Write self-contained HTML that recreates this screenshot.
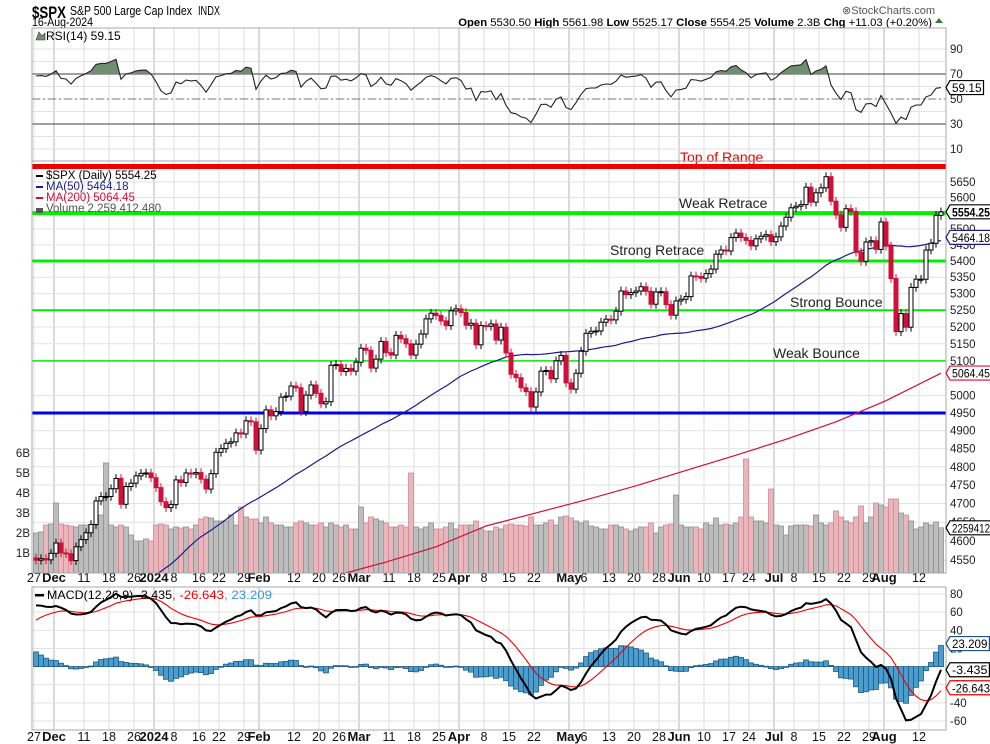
<!DOCTYPE html>
<html><head><meta charset="utf-8">
<style>
html,body{margin:0;padding:0;background:#fff;}
svg{display:block;font-family:"Liberation Sans",Arial,sans-serif;}
</style></head>
<body>
<svg id="chart" width="990" height="744" viewBox="0 0 990 744" xmlns="http://www.w3.org/2000/svg">
<g>
<text x="32" y="18" font-size="17" font-weight="bold" fill="#000" textLength="34" lengthAdjust="spacingAndGlyphs">$SPX</text>
<text x="70" y="15" font-size="12.5" fill="#000" textLength="122" lengthAdjust="spacingAndGlyphs">S&amp;P 500 Large Cap Index</text>
<text x="198" y="15" font-size="12.5" fill="#000" textLength="22" lengthAdjust="spacingAndGlyphs">INDX</text>
<text x="32" y="26" font-size="11.5" fill="#000" textLength="61" lengthAdjust="spacingAndGlyphs">16-Aug-2024</text>
<text x="935" y="14" font-size="11" fill="#555" text-anchor="end">⊗StockCharts.com</text>
<text x="932" y="26" font-size="11.3" fill="#000" text-anchor="end"><tspan font-weight="bold">Open</tspan> 5530.50 <tspan font-weight="bold">High</tspan> 5561.98 <tspan font-weight="bold">Low</tspan> 5525.17 <tspan font-weight="bold">Close</tspan> 5554.25 <tspan font-weight="bold">Volume</tspan> 2.3B <tspan font-weight="bold">Chg</tspan> +11.03 (+0.20%)</text>
<path d="M935 23 L939 18 L943 23 Z" fill="#3a7a3a"/>
</g>
<g id="grid"></g>
<g id="rsi"></g>
<g id="main"></g>
<g id="macd"></g>
<g id="axes"></g>
</svg>
<script>
// ---- data ----
const priorCloses=[4505,4450,4453,4443,4402,4330,4320,4337,4274,4275,4300,4288,4288,4229,4263,4258,4309,4336,4358,4377,4349,4328,4374,4373,4315,4278,4224,4218,4248,4186,4137,4117,4167,4194,4237,4318,4358,4365,4378,4383,4347,4415,4411,4496,4502,4508,4514,4547,4538,4557,4559];
const closes=[4550,4554,4551,4568,4595,4569,4567,4549,4585,4604,4622,4644,4707,4719,4719,4740,4768,4698,4746,4755,4775,4782,4783,4770,
4743,4705,4689,4697,4764,4757,4783,4780,4784,4766,4739,4781,4840,4850,4865,4869,4894,4891,4928,4925,4846,
4906,4959,4942,4954,4995,4998,5027,5022,4954,5001,5030,5006,4976,4982,5087,5089,5069,5078,5070,5096,
5137,5131,5079,5105,5157,5124,5117,5175,5165,5150,5117,5149,5179,5224,5241,5234,5218,5204,5248,5254,
5243,5205,5211,5147,5204,5202,5209,5161,5199,5123,5061,5051,5022,5011,4967,5010,5070,5072,5048,5100,5116,5036,
5018,5064,5128,5181,5187,5188,5214,5223,5221,5247,5308,5297,5303,5308,5321,5307,5268,5305,5306,5267,5235,5278,
5283,5291,5354,5352,5347,5361,5375,5421,5434,5431,5473,5487,5473,5464,5447,5469,5477,5482,5460,
5475,5509,5537,5567,5572,5577,5633,5585,5615,5631,5667,5588,5544,5505,5564,5555,5427,5399,5459,5463,5436,5522,
5446,5346,5186,5240,5199,5319,5344,5344,5434,5455,5543,5554];
const volumes=[2.0,2.05,2.4,2.45,3.5,2.45,2.4,2.35,2.3,2.4,2.4,2.35,2.4,2.9,5.5,2.4,2.3,2.4,2.3,1.9,1.6,1.6,1.7,1.6,
2.4,2.45,2.4,2.2,2.3,2.25,2.3,2.2,2.4,2.7,2.8,2.75,2.6,2.6,2.6,2.9,2.4,3.3,2.8,2.7,2.7,
2.5,2.8,2.5,2.4,2.4,2.3,2.3,2.5,2.6,2.5,2.4,2.4,2.5,2.3,2.5,2.4,2.3,2.4,2.2,2.2,
3.3,2.5,2.8,2.7,2.6,2.5,2.3,2.3,2.4,2.3,5.0,2.3,2.2,2.3,2.5,2.2,2.2,2.3,2.5,2.2,
2.4,2.4,2.4,2.6,2.2,2.1,2.1,2.3,2.2,2.4,2.45,2.4,2.4,2.35,2.8,2.4,2.4,2.5,2.65,2.4,2.8,2.85,
2.75,2.6,2.5,2.6,2.35,2.3,2.2,2.2,2.4,2.4,2.3,2.2,2.1,2.2,2.3,2.3,2.5,2.0,2.3,2.4,2.45,3.9,
2.4,2.3,2.3,2.3,2.2,2.5,2.4,2.75,2.4,2.45,2.4,2.5,2.8,5.7,2.8,2.6,2.6,2.5,4.2,
2.4,2.35,1.9,2.35,2.4,2.4,2.4,2.35,2.9,2.5,2.4,2.5,3.1,2.8,2.6,2.5,2.8,3.35,2.5,2.8,3.5,3.4,
3.3,3.7,3.7,3.0,2.9,2.6,2.2,2.3,2.5,2.4,2.55,2.26];
const ma200Idx=[0,10,20,30,40,50,60,70,80,90,100,110,120,130,140,150,160,170,181];
const ma200Val=[4370,4390,4410,4430,4455,4480,4510,4545,4585,4640,4675,4710,4748,4790,4832,4876,4925,4985,5064];
const levelValues=[5700,5550,5400,5250,5100,4950];
const levelNames=["Top of Range","Weak Retrace","Strong Retrace","Strong Bounce","Weak Bounce",""];
const priceTicks=[5650,5600,5500,5450,5400,5350,5300,5250,5200,5150,5100,5000,4950,4900,4850,4800,4750,4700,4650,4600,4550];
const volTicks=[1,2,3,4,5,6];
const rsiTicks=[90,70,50,30,10];
const macdTicks=[80,60,40,20,-20,-40,-60];
const tickDates=["2023-11-27","2023-12-01","2023-12-11","2023-12-18","2023-12-26","2024-01-02","2024-01-08","2024-01-16","2024-01-22","2024-01-29","2024-02-01","2024-02-12","2024-02-20","2024-02-26","2024-03-01","2024-03-11","2024-03-18","2024-03-25","2024-04-01","2024-04-08","2024-04-15","2024-04-22","2024-05-01","2024-05-06","2024-05-13","2024-05-20","2024-05-28","2024-06-03","2024-06-10","2024-06-17","2024-06-24","2024-07-01","2024-07-08","2024-07-15","2024-07-22","2024-07-29","2024-08-01","2024-08-12"];
const tickLabels=["27","Dec","11","18","26","2024","8","16","22","29","Feb","12","20","26","Mar","11","18","25","Apr","8","15","22","May","6","13","20","28","Jun","10","17","24","Jul","8","15","22","29","Aug","12"];

// ---- scales ----
const L=32,R=946;
const xi=i=>36+5*i;
const yP=v=>413+Math.log(4950/v)*1747;
const yV=b=>573-20*b;
const yR=r=>99-(r-50)*1.25;
const yM=m=>666.6-m*0.907;
const NS="http://www.w3.org/2000/svg";
function mk(parent,tag,attrs,text){const e=document.createElementNS(NS,tag);for(const k in attrs)e.setAttribute(k,attrs[k]);if(text!==undefined)e.textContent=text;parent.appendChild(e);return e;}

const hol=new Set(["2023-12-25","2024-01-01","2024-01-15","2024-02-19","2024-03-29","2024-05-27","2024-06-19","2024-07-04"]);
const days=[];
for(let d=new Date(Date.UTC(2023,10,27));d<=new Date(Date.UTC(2024,7,16));d.setUTCDate(d.getUTCDate()+1)){
 const s=d.toISOString().slice(0,10);const w=d.getUTCDay();if(w===0||w===6||hol.has(s))continue;days.push(s);}

const G=document.getElementById('grid'),GR=document.getElementById('rsi'),GM=document.getElementById('main'),GD=document.getElementById('macd'),GA=document.getElementById('axes');

const panels=[[28,161],[161,573],[587,730]];
tickDates.forEach((td,k)=>{
 const i=days.indexOf(td);if(i<0)return;const x=xi(i)-2;
 const isMonth=isNaN(+tickLabels[k])||tickLabels[k]==="2024";
 panels.forEach(p=>{const ln=mk(G,'line',{x1:x,x2:x,y1:p[0],y2:p[1],stroke:isMonth?'#b4b4b4':'#dedede','stroke-width':1});
 
 });
 [578,737].forEach(yy=>{const t=mk(GA,'text',{x:x,y:yy+4,'font-size':isMonth?13:12.5,'font-weight':isMonth?'bold':'normal','text-anchor':'middle',fill:'#111'},tickLabels[k]);
 
 });
});
for(let r=10;r<=90;r+=10){const ln=mk(G,'line',{x1:L,x2:R,y1:yR(r),y2:yR(r),stroke:'#e2e2e2'});}
priceTicks.forEach(v=>{const ln=mk(G,'line',{x1:L,x2:R,y1:yP(v),y2:yP(v),stroke:'#e2e2e2'});});
for(let m=-60;m<=80;m+=20){const ln=mk(G,'line',{x1:L,x2:R,y1:yM(m),y2:yM(m),stroke:'#e2e2e2'});}
panels.forEach(p=>{const r=mk(GA,'rect',{x:L,y:p[0],width:R-L,height:p[1]-p[0],fill:'none',stroke:'#a8a8a8'});});

// ---- RSI ----
const all=priorCloses.concat(closes),off=priorCloses.length;
let ag=0,al=0;const rsi=[];
for(let k=1;k<all.length;k++){const ch=all[k]-all[k-1];const g=Math.max(ch,0),l=Math.max(-ch,0);
 if(k<=14){ag+=g/14;al+=l/14;}else{ag=(ag*13+g)/14;al=(al*13+l)/14;}
 if(k>=off)rsi[k-off]=100-100/(1+ag/(al||1e-9));}
[70,30].forEach(r=>{const ln=mk(GR,'line',{x1:L,x2:R,y1:yR(r),y2:yR(r),stroke:'#666','stroke-width':1.2});});
const l50=mk(GR,'line',{x1:L,x2:R,y1:yR(50),y2:yR(50),stroke:'#777','stroke-dasharray':'8 3 2 3'});


const rpts=rsi.map((r,i)=>xi(i)+','+yR(r).toFixed(1)).join(' ');
const cpath=mk(GR,'clipPath',{id:'above70'});mk(cpath,'rect',{x:L,y:28,width:R-L,height:yR(70)-28});
const fill=mk(GR,'polygon',{points:xi(0)+','+yR(70)+' '+rpts+' '+xi(rsi.length-1)+','+yR(70),fill:'#6f8f6f',stroke:'none','clip-path':'url(#above70)'});


const rl=mk(GR,'polyline',{points:rpts,fill:'none',stroke:'#222','stroke-width':1.1});


const rlab=mk(GR,'text',{x:46,y:40,'font-size':12,fill:'#000'},'RSI(14) 59.15');


mk(GR,'path',{d:'M36 40 L39 32 L42 36 L45 33 L45 40 Z',fill:'#6f8f6f',stroke:'#333','stroke-width':0.6});

// ---- Volume ----
volumes.forEach((v,i)=>{const down=i>0&&closes[i]<closes[i-1];
 const b=mk(GM,'rect',{x:xi(i)-2.5,y:yV(v),width:5,height:573-yV(v),fill:down?'#e8b6bb':'#bdbdbd',stroke:down?'#cf8a92':'#8f8f8f','stroke-width':0.8});
 
 });

// ---- level lines ----
const lw=[5,4,3,2,1.5,3];
levelValues.forEach((v,k)=>{const ln=mk(GM,'line',{x1:L,x2:R,y1:yP(v),y2:yP(v),stroke:k===0?'#ee0000':k===5?'#0000ee':'#00ee00','stroke-width':lw[k]});
 
 });
const lblPos=[[680,162],[679,208],[610,255],[790,307],[773,358]];
levelNames.forEach((n,k)=>{if(!n)return;const t=mk(GM,'text',{x:lblPos[k][0],y:lblPos[k][1],'font-size':14,fill:k===0?'#ee0000':'#222'},n);
 
 });

// ---- MAs ----
const ma50=[];for(let i=0;i<closes.length;i++){let s=0;for(let k=off+i-49;k<=off+i;k++)s+=all[k];ma50.push(s/50);}
const clipM=mk(GM,'clipPath',{id:'mainclip'});mk(clipM,'rect',{x:L,y:161,width:R-L,height:412});
const m50=mk(GM,'polyline',{points:ma50.map((v,i)=>xi(i)+','+yP(v).toFixed(1)).join(' '),fill:'none',stroke:'#1a1a8c','stroke-width':1.2,'clip-path':'url(#mainclip)'});


const m200=mk(GM,'polyline',{points:ma200Idx.map((ix,k)=>xi(ix)+','+yP(ma200Val[k]).toFixed(1)).join(' '),fill:'none',stroke:'#d0103a','stroke-width':1.2,'clip-path':'url(#mainclip)'});



// ---- candles ----
closes.forEach((c,i)=>{const o=i>0?closes[i-1]:4556;const up=c>=o;const col=up?'#000':'#d0103a';
 const hi=Math.max(o,c)*1.0025,lo=Math.min(o,c)*0.9975;
 const w=mk(GM,'line',{x1:xi(i),x2:xi(i),y1:yP(hi),y2:yP(lo),stroke:col,'stroke-width':1});
 
 
 const top=yP(Math.max(o,c)),h=Math.max(1,yP(Math.min(o,c))-top);
 const b=mk(GM,'rect',{x:xi(i)-2,y:top,width:4,height:h,fill:up?'#fff':col,stroke:col,'stroke-width':1});
 
 });

const leg=[['$SPX (Daily) 5554.25','#000'],['MA(50) 5464.18','#1a1a8c'],['MA(200) 5064.45','#d0103a'],['Volume 2,259,412,480','#555']];
leg.forEach((l,k)=>{const t=mk(GM,'text',{x:46,y:179+k*11,'font-size':11.5,fill:l[1]},l[0]);
 
 
 mk(GM,'rect',{x:36,y:175+k*11,width:7,height:k===3?5:2,fill:l[1]});});

// ---- MACD ----
let e12=all[0],e26=all[0],sig=null;const macd=[],sg=[];
for(let k=0;k<all.length;k++){e12=e12+(all[k]-e12)*2/13;e26=e26+(all[k]-e26)*2/27;const m=e12-e26;
 sig=sig===null?m:sig+(m-sig)*0.2;if(k>=off){macd.push(m);sg.push(sig);}}
macd.forEach((m,i)=>{const h=m-sg[i];const y0=yM(0),y1=yM(h);
 const b=mk(GD,'rect',{x:xi(i)-2.5,y:Math.min(y0,y1),width:5,height:Math.max(0.8,Math.abs(y1-y0)),fill:'#4a9dcc',stroke:'#1d5a85','stroke-width':0.8});
 
 });
const sl=mk(GD,'polyline',{points:sg.map((v,i)=>xi(i)+','+yM(v).toFixed(1)).join(' '),fill:'none',stroke:'#e00','stroke-width':1.1});


const ml=mk(GD,'polyline',{points:macd.map((v,i)=>xi(i)+','+yM(v).toFixed(1)).join(' '),fill:'none',stroke:'#000','stroke-width':2});


const mparts=[['MACD(12,26,9) -3.435',47,'#000',125],[', -26.643',172,'#e00',52],[', 23.209',224,'#3399cc',48]];
mparts.forEach(p=>{const t=mk(GD,'text',{x:p[1],y:599,'font-size':12,fill:p[2],textLength:p[3],lengthAdjust:'spacingAndGlyphs'},p[0]);
 
 });
mk(GD,'rect',{x:35,y:594,width:9,height:2.5,fill:'#000'});

// ---- axis labels ----
function ylab(txt,y,name){const t=mk(GA,'text',{x:950,y:y+4,'font-size':11.5,fill:'#222'},txt);}
rsiTicks.forEach(r=>ylab(String(r),yR(r),'rsi-y-tick'));
priceTicks.forEach(v=>ylab(String(v),yP(v),'price-y-tick'));
macdTicks.forEach(m=>ylab(String(m),yM(m),'macd-y-tick'));
volTicks.forEach(b=>{const t=mk(GA,'text',{x:30,y:yV(b)+4,'font-size':11.5,fill:'#222','text-anchor':'end'},b+'B');});
function tag(txt,y,col,bold){const w=Math.min(42,txt.length*5.9+4);
 const g=mk(GA,'g',{});
 mk(g,'path',{d:`M946 ${y} L950 ${y-7} L${950+w} ${y-7} L${950+w} ${y+7} L950 ${y+7} Z`,fill:'#fff',stroke:col,'stroke-width':1.2});
 mk(g,'text',{x:952,y:y+4.5,'font-size':12,fill:'#000','font-weight':bold?'bold':'normal',textLength:w-4,lengthAdjust:'spacingAndGlyphs'},txt);}
tag('59.15',yR(59.15),'#000');
tag('5464.18',yP(5464.18)-3,'#1a1a8c');
tag('5554.25',yP(5554.25),'#000',true);
tag('5064.45',yP(5064.45),'#d0103a');
tag('2259412',yV(2.259),'#000');
tag('23.209',yM(23.209)-2,'#1a4f8c');
tag('-3.435',yM(-3.435),'#000');
tag('-26.643',yM(-26.643)-3,'#e00');
</script>
</body></html>
